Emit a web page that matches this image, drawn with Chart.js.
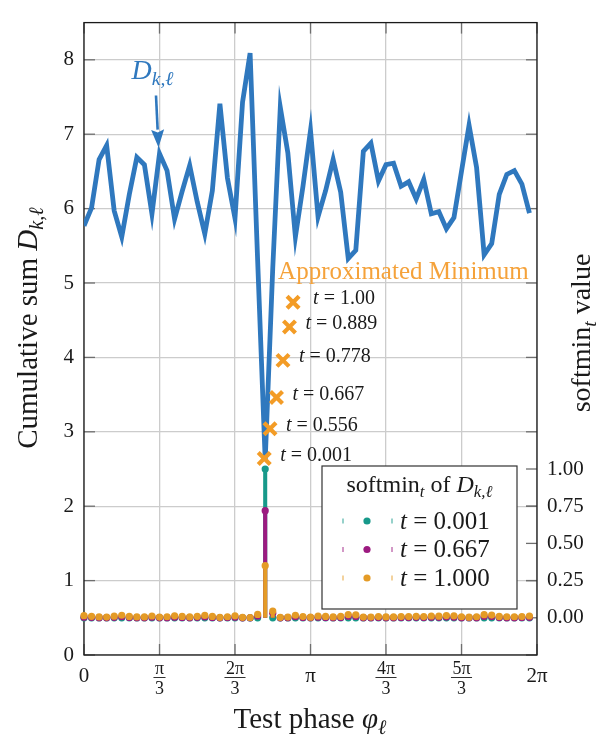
<!DOCTYPE html>
<html>
<head>
<meta charset="utf-8">
<script src="https://cdn.jsdelivr.net/npm/chart.js"></script>
<style>
  html, body { margin: 0; padding: 0; background: #fff; }
  canvas { display: block; }
</style>
</head>
<body>
<canvas id="myChart" width="605" height="736"></canvas>
<script>
// test phases: 60 points on [0, 2pi)
const phases = Array.from({ length: 60 }, (_, i) => i * 2 * Math.PI / 60);

// cumulative sum D_{k,l}
const cumSum = [5.77, 6.01, 6.66, 6.85, 5.97, 5.62, 6.19, 6.69, 6.59, 5.93,
                6.74, 6.51, 5.86, 6.23, 6.58, 6.09, 5.66, 6.24, 7.41, 6.41,
                5.87, 7.43, 8.09, 5.30, 2.62, 5.20, 7.36, 6.75, 5.62, 6.30,
                7.05, 5.89, 6.24, 6.66, 6.22, 5.33, 5.44, 6.77, 6.88, 6.37,
                6.59, 6.61, 6.30, 6.36, 6.13, 6.39, 5.93, 5.96, 5.73, 5.88,
                6.50, 7.12, 6.55, 5.38, 5.53, 6.19, 6.46, 6.51, 6.33, 5.94];

// softmin_t of D for three temperatures
const softT0001 = [0, 0, 0, 0, 0, 0, 0, 0, 0, 0,
                   0, 0, 0, 0, 0, 0, 0, 0, 0, 0,
                   0, 0, 0, 0, 1.0, 0, 0, 0, 0, 0,
                   0, 0, 0, 0, 0, 0, 0, 0, 0, 0,
                   0, 0, 0, 0, 0, 0, 0, 0, 0, 0,
                   0, 0, 0, 0, 0, 0, 0, 0, 0, 0];
const softT0667 = [0.004, 0.003, 0.001, 0.001, 0.003, 0.007, 0.002, 0.001, 0.001, 0.004,
                   0.001, 0.001, 0.004, 0.002, 0.001, 0.003, 0.006, 0.002, 0.000, 0.002,
                   0.004, 0.000, 0.000, 0.012, 0.720, 0.030, 0.000, 0.001, 0.007, 0.002,
                   0.001, 0.004, 0.002, 0.001, 0.002, 0.011, 0.009, 0.001, 0.001, 0.002,
                   0.001, 0.001, 0.002, 0.002, 0.003, 0.002, 0.004, 0.003, 0.005, 0.004,
                   0.001, 0.001, 0.001, 0.010, 0.008, 0.002, 0.001, 0.001, 0.002, 0.003];
const softT1000 = [0.014, 0.010, 0.006, 0.005, 0.011, 0.017, 0.009, 0.006, 0.006, 0.012,
                   0.005, 0.007, 0.013, 0.009, 0.006, 0.010, 0.016, 0.009, 0.003, 0.007,
                   0.013, 0.003, 0.002, 0.023, 0.350, 0.045, 0.003, 0.005, 0.017, 0.008,
                   0.004, 0.012, 0.009, 0.006, 0.009, 0.022, 0.020, 0.005, 0.005, 0.008,
                   0.006, 0.006, 0.008, 0.008, 0.010, 0.008, 0.012, 0.011, 0.015, 0.013,
                   0.007, 0.004, 0.007, 0.021, 0.018, 0.009, 0.007, 0.007, 0.008, 0.012];

// approximated minimum for several t
const crossT = ['0.001', '0.556', '0.667', '0.778', '0.889', '1.00'];
const crossPhase = [2.50, 2.58, 2.67, 2.76, 2.85, 2.90];
const crossValue = [2.64, 3.04, 3.46, 3.96, 4.41, 4.74];

// ticks
const xTickVals = [0, Math.PI / 3, 2 * Math.PI / 3, Math.PI, 4 * Math.PI / 3, 5 * Math.PI / 3, 2 * Math.PI];
const xTickLabels = [['0'], ['π', '3'], ['2π', '3'], ['π'], ['4π', '3'], ['5π', '3'], ['2π']];
const y2TickVals = [0, 0.25, 0.5, 0.75, 1];
const legendT = ['0.001', '0.667', '1.000'];

const FONT = '"Liberation Serif", "DejaVu Serif", serif';
const INK = '#1a1a1a';
const BLUE = '#2f78be';
const CROSS = '#f39c26';
const TEAL = '#17998a', MAGENTA = '#9c1a80', GOLD = '#e49b26';

const pts = (ys) => phases.map((p, i) => ({ x: p, y: ys[i] }));

function setFont(ctx, kind, size) {
  const sub = kind[0] === 's';
  const it = kind[kind.length - 1] === 'i';
  ctx.font = (it ? 'italic ' : '') + (sub ? size * 0.7 : size) + 'px ' + FONT;
}
function richWidth(ctx, parts, size) {
  let w = 0;
  for (const [t, k] of parts) { setFont(ctx, k, size); w += ctx.measureText(t).width; }
  return w;
}
function drawRich(ctx, parts, x, y, size, align) {
  let cx = align === 'center' ? x - richWidth(ctx, parts, size) / 2 : x;
  ctx.textAlign = 'left';
  ctx.textBaseline = 'alphabetic';
  for (const [t, k] of parts) {
    setFont(ctx, k, size);
    ctx.fillText(t, cx, k[0] === 's' ? y + size * 0.22 : y);
    cx += ctx.measureText(t).width;
  }
}
function line(ctx, x1, y1, x2, y2) {
  ctx.beginPath(); ctx.moveTo(x1, y1); ctx.lineTo(x2, y2); ctx.stroke();
}

const decor = {
  id: 'decor',
  beforeDatasetsDraw(chart) {
    const ctx = chart.ctx, ca = chart.chartArea;
    const xs = chart.scales.x, ys = chart.scales.y, y2 = chart.scales.y2;
    ctx.save();
    ctx.strokeStyle = '#6e6e6e';
    ctx.lineWidth = 1.3;
    xs.ticks.forEach(t => {
      const p = xs.getPixelForValue(t.value);
      line(ctx, p, ca.bottom, p, ca.bottom - 11);
      line(ctx, p, ca.top, p, ca.top + 11);
    });
    ys.ticks.forEach(t => {
      const p = ys.getPixelForValue(t.value);
      line(ctx, ca.left, p, ca.left + 11, p);
      line(ctx, ca.right, p, ca.right - 11, p);
    });
    y2.ticks.forEach(t => {
      const p = y2.getPixelForValue(t.value);
      line(ctx, ca.right, p, ca.right - 11, p);
    });
    ctx.strokeStyle = INK;
    ctx.strokeRect(ca.left, ca.top, ca.right - ca.left, ca.bottom - ca.top);
    ctx.restore();
  },
  afterDatasetsDraw(chart) {
    const ctx = chart.ctx, ca = chart.chartArea;
    const xs = chart.scales.x, ys = chart.scales.y;
    ctx.save();

    // x tick labels as fractions
    ctx.fillStyle = INK;
    xTickVals.forEach((v, i) => {
      const p = xs.getPixelForValue(v);
      const lab = xTickLabels[i];
      if (lab.length === 1) {
        drawRich(ctx, [[lab[0], 'r']], p, ca.bottom + 27, 21, 'center');
      } else {
        drawRich(ctx, [[lab[0], 'r']], p, ca.bottom + 18.5, 18, 'center');
        drawRich(ctx, [[lab[1], 'r']], p, ca.bottom + 38.5, 18, 'center');
        setFont(ctx, 'r', 18);
        const w = ctx.measureText(lab[0]).width + 3;
        ctx.strokeStyle = INK; ctx.lineWidth = 0.9;
        line(ctx, p - w / 2, ca.bottom + 22.5, p + w / 2, ca.bottom + 22.5);
      }
    });

    // axis titles
    drawRich(ctx, [['Test phase ', 'r'], ['φ', 'i'], ['ℓ', 'si']], 310, 728, 29, 'center');
    ctx.save();
    ctx.translate(37, 328);
    ctx.rotate(-Math.PI / 2);
    drawRich(ctx, [['Cumulative sum ', 'r'], ['D', 'i'], ['k,ℓ', 'si']], 0, 0, 29, 'center');
    ctx.restore();
    ctx.save();
    ctx.translate(590, 333);
    ctx.rotate(-Math.PI / 2);
    drawRich(ctx, [['softmin', 'r'], ['t', 'si'], [' value', 'r']], 0, 0, 28, 'center');
    ctx.restore();

    // labels next to the crosses
    crossT.forEach((t, i) => {
      const px = xs.getPixelForValue(crossPhase[i]);
      const py = ys.getPixelForValue(crossValue[i]);
      drawRich(ctx, [['t', 'i'], [' = ' + t, 'r']], px + (i === 5 ? 20 : 16), py + 2, 20, 'left');
    });
    const mx = xs.getPixelForValue(crossPhase[5]);
    const my = ys.getPixelForValue(crossValue[5]);
    ctx.fillStyle = '#f5a23a';
    drawRich(ctx, [['Approximated Minimum', 'r']], mx - 15, my - 23, 25, 'left');

    // D_{k,l} annotation with arrow
    const ax = xs.getPixelForValue(phases[10]);
    const ay = ys.getPixelForValue(cumSum[10]);
    ctx.fillStyle = BLUE;
    ctx.strokeStyle = BLUE;
    drawRich(ctx, [['D', 'i'], ['k,ℓ', 'si']], ax - 28, ay - 75, 28, 'left');
    const sx = ax - 3.5, sy = ay - 58, tx = ax - 1, ty = ay - 6;
    const len = Math.hypot(tx - sx, ty - sy);
    const ux = (tx - sx) / len, uy = (ty - sy) / len;
    const bx = tx - ux * 18, by = ty - uy * 18;
    ctx.lineWidth = 2.6;
    line(ctx, sx, sy, bx, by);
    ctx.beginPath();
    ctx.moveTo(tx, ty);
    ctx.lineTo(bx - uy * 6.5, by + ux * 6.5);
    ctx.lineTo(bx + ux * 3, by + uy * 3);
    ctx.lineTo(bx + uy * 6.5, by - ux * 6.5);
    ctx.closePath();
    ctx.fill();

    // legend box
    const lx = ca.right - 215, ly = ca.bottom - 189, lw = 195, lh = 143;
    ctx.fillStyle = '#fff';
    ctx.fillRect(lx, ly, lw, lh);
    ctx.strokeStyle = '#333';
    ctx.lineWidth = 1.2;
    ctx.strokeRect(lx, ly, lw, lh);
    ctx.fillStyle = INK;
    drawRich(ctx, [['softmin', 'r'], ['t', 'si'], [' of ', 'r'], ['D', 'i'], ['k,ℓ', 'si']], lx + lw / 2, ly + 26, 24, 'center');
    [TEAL, MAGENTA, GOLD].forEach((c, i) => {
      const cy = ly + 55 + i * 28.5;
      ctx.globalAlpha = 0.45;
      ctx.strokeStyle = c;
      ctx.lineWidth = 2;
      line(ctx, lx + 21, cy - 2.5, lx + 21, cy + 2.5);
      line(ctx, lx + 70, cy - 2.5, lx + 70, cy + 2.5);
      ctx.globalAlpha = 1;
      ctx.fillStyle = c;
      ctx.beginPath();
      ctx.arc(lx + 45, cy, 3.6, 0, Math.PI * 2);
      ctx.fill();
      ctx.fillStyle = INK;
      drawRich(ctx, [['t', 'i'], [' = ' + legendT[i], 'r']], lx + 78, cy + 7.5, 25, 'left');
    });
    ctx.restore();
  }
};

const ctx = document.getElementById('myChart');
const grid = { color: '#cccccc', lineWidth: 1.3, drawTicks: false };

new Chart(ctx, {
  type: 'scatter',
  data: {
    datasets: [
      {
        type: 'scatter', data: crossPhase.map((p, i) => ({ x: p, y: crossValue[i] })),
        pointStyle: 'crossRot', pointRadius: 8.5, borderWidth: 4.2,
        borderColor: CROSS, backgroundColor: CROSS, yAxisID: 'y', order: 0, clip: false
      },
      {
        type: 'line', data: pts(cumSum), borderColor: BLUE, borderWidth: 4.8,
        borderJoinStyle: 'miter', pointRadius: 0, yAxisID: 'y', order: 1
      },
      { type: 'scatter', data: pts(softT1000), pointRadius: 3.6, borderWidth: 0, backgroundColor: GOLD, yAxisID: 'y2', order: 2, clip: false },
      { type: 'bar', data: pts(softT1000), backgroundColor: GOLD, barThickness: 3.4, grouped: false, yAxisID: 'y2', order: 3 },
      { type: 'scatter', data: pts(softT0667), pointRadius: 3.6, borderWidth: 0, backgroundColor: MAGENTA, yAxisID: 'y2', order: 4, clip: false },
      { type: 'bar', data: pts(softT0667), backgroundColor: MAGENTA, barThickness: 3.4, grouped: false, yAxisID: 'y2', order: 5 },
      { type: 'scatter', data: pts(softT0001), pointRadius: 3.6, borderWidth: 0, backgroundColor: TEAL, yAxisID: 'y2', order: 6, clip: false },
      { type: 'bar', data: pts(softT0001), backgroundColor: TEAL, barThickness: 3.4, grouped: false, yAxisID: 'y2', order: 7 }
    ]
  },
  options: {
    responsive: false,
    animation: false,
    devicePixelRatio: 1,
    layout: { padding: { top: 8, left: 0, right: 0, bottom: 0 }, autoPadding: false },
    plugins: { legend: { display: false }, tooltip: { enabled: false } },
    scales: {
      x: {
        type: 'linear', min: 0, max: 2 * Math.PI, offset: false,
        afterBuildTicks: (s) => { s.ticks = xTickVals.map(v => ({ value: v })); },
        afterFit: (s) => { s.height = 81; },
        ticks: { display: false },
        grid: Object.assign({ offset: false }, grid), border: { display: false }
      },
      y: {
        position: 'left', min: 0, max: 8.5,
        afterFit: (s) => { s.width = 84; },
        ticks: { stepSize: 1, includeBounds: false, padding: 10, color: INK, font: { family: FONT, size: 21 } },
        grid: grid, border: { display: false }
      },
      y2: {
        position: 'right', min: -0.25, max: 4.0,
        afterBuildTicks: (s) => { s.ticks = y2TickVals.map(v => ({ value: v })); },
        afterFit: (s) => { s.width = 68; },
        ticks: { padding: 10, color: INK, font: { family: FONT, size: 21 }, callback: (v) => v.toFixed(2) },
        grid: { drawOnChartArea: false, drawTicks: false }, border: { display: false }
      }
    }
  },
  plugins: [decor]
});
</script>
</body>
</html>
